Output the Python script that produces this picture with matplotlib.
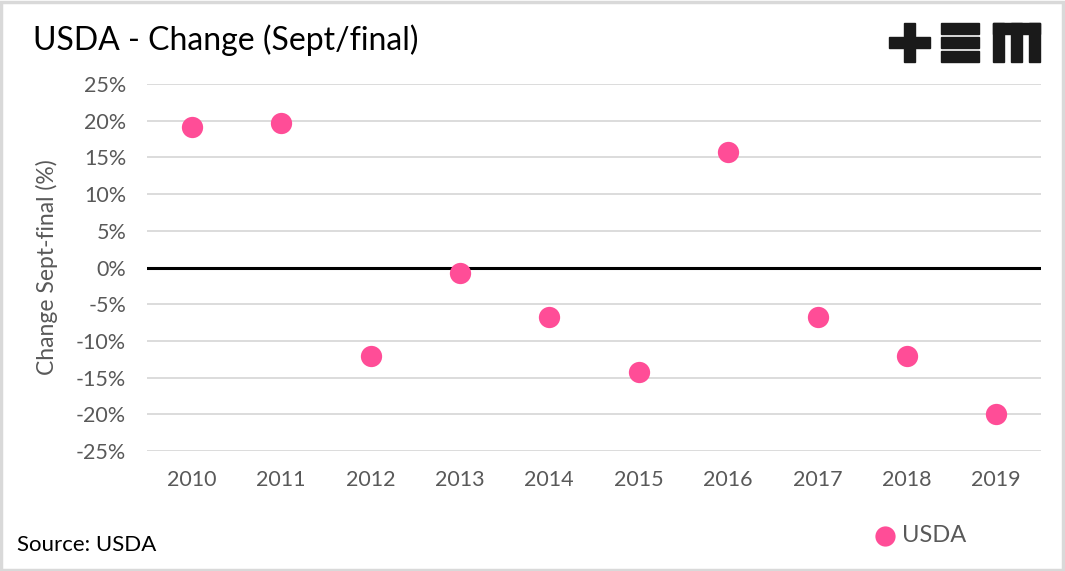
import matplotlib.pyplot as plt
from matplotlib.patches import Rectangle
from matplotlib.ticker import FuncFormatter

# dados
anos = ['2010', '2011', '2012', '2013', '2014', '2015', '2016', '2017', '2018', '2019']
variacao = [19.1, 19.7, -12.0, -0.7, -6.8, -14.3, 15.8, -6.8, -12.0, -20.0]
ticks_y = [-25, -20, -15, -10, -5, 0, 5, 10, 15, 20, 25]

rosa = '#FF4D97'
cinza = '#595959'
plt.rcParams['font.family'] = ['Lato', 'DejaVu Sans']

fig = plt.figure(figsize=(10.65, 5.71), dpi=100)
ax = fig.add_axes([147 / 1065, 1 - 451 / 571, (1041 - 147) / 1065, (451 - 84) / 571])

x = range(len(anos))
ax.scatter(x, variacao, s=235, color=rosa, zorder=3, label='USDA', linewidths=0)

ax.set_xlim(-0.5, len(anos) - 0.5)
ax.set_ylim(-25, 25)
ax.set_yticks(ticks_y)
ax.yaxis.set_major_formatter(FuncFormatter(lambda v, p: f'{int(v)}%'))
ax.set_xticks(list(x))
ax.set_xticklabels(anos)
ax.grid(axis='y', color='#d9d9d9', linewidth=1.3)
ax.set_axisbelow(True)
ax.axhline(0, color='black', linewidth=2.2, zorder=2)
for s in ax.spines.values():
    s.set_visible(False)
ax.tick_params(length=0, labelsize=15.5, colors=cinza, pad=15)
ax.tick_params(axis='x', pad=14)
ax.set_ylabel('Change Sept-final (%)', fontsize=16.5, color=cinza)
ax.yaxis.set_label_coords(-0.1, 0.5)

# titulo e fonte
fig.text(33 / 1065, 1 - 40 / 571, 'USDA - Change (Sept/final)', fontsize=23, va='center', color='black')
fig.text(17 / 1065, 1 - 545 / 571, 'Source: USDA', fontsize=16, va='center', color='black')

# legenda
fig.legend(loc='center', bbox_to_anchor=(914 / 1065, 1 - 536 / 571), frameon=False,
           fontsize=17, handletextpad=-0.3, markerscale=0.95, labelcolor=cinza)

# logo +EM
def ret(x0, y0, x1, y1):
    fig.patches.append(Rectangle((x0 / 1065, 1 - y1 / 571), (x1 - x0) / 1065, (y1 - y0) / 571,
                                 transform=fig.transFigure, color='#1a1a1a', zorder=5))

ret(889, 37, 930, 48)
ret(904, 23, 915, 62)
ret(941, 23, 979, 34)
ret(941, 37, 979, 48)
ret(941, 51, 979, 62)
ret(993, 23, 1040, 34)
ret(993, 23, 1004, 62)
ret(1011, 23, 1022, 62)
ret(1029, 23, 1040, 62)

# moldura
fig.patches.append(Rectangle((0.001, 0.002), 0.997, 0.995, transform=fig.transFigure,
                             fill=False, edgecolor='#d9d9d9', linewidth=2.5))

fig.savefig('out.png', dpi=100)
